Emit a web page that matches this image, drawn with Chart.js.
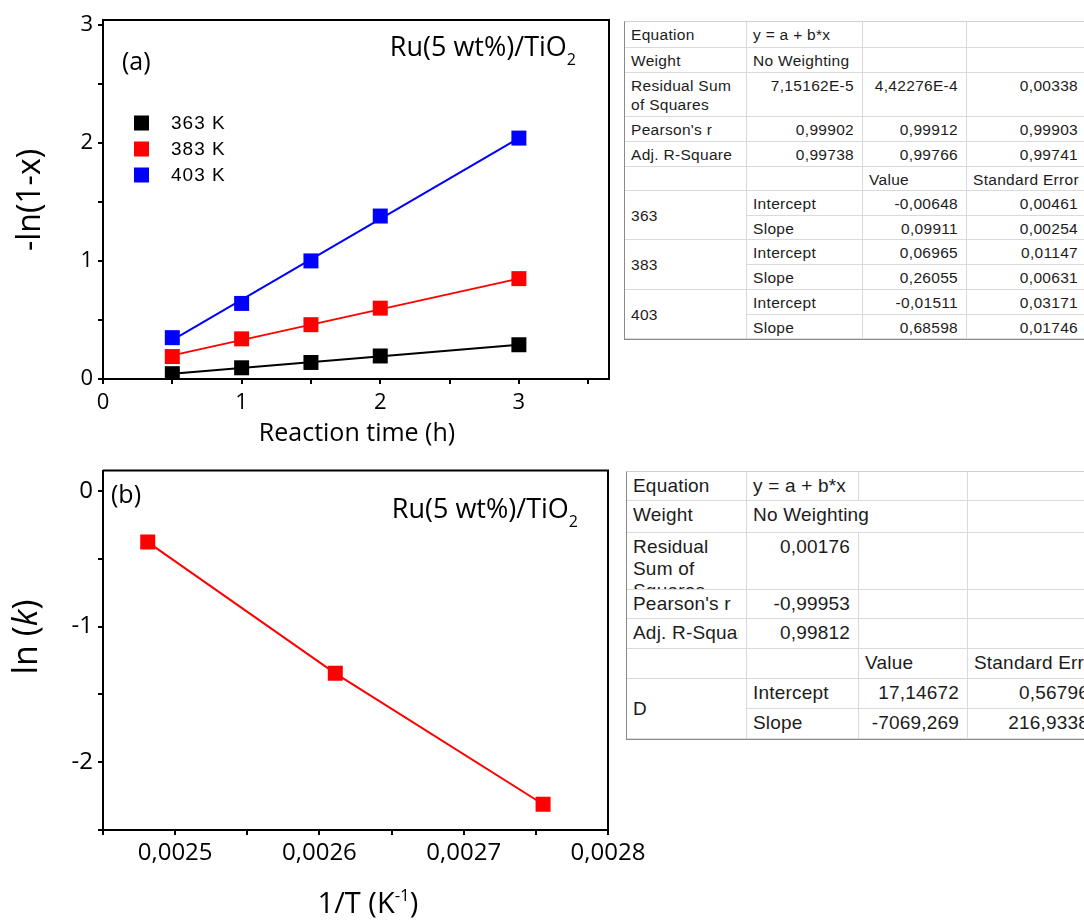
<!DOCTYPE html>
<html>
<head>
<meta charset="utf-8">
<script src="https://cdn.jsdelivr.net/npm/chart.js@4.4.0/dist/chart.umd.min.js"></script>
<style>
html, body { margin: 0; padding: 0; background: #fff; }
body { width: 1084px; height: 922px; position: relative; overflow: hidden; }
canvas { position: absolute; }
#chartA { left: 0; top: 0; }
#chartB { left: 0; top: 460px; }
table.fit { position: absolute; border-collapse: separate; border-spacing: 0; table-layout: fixed;
  font-family: "Liberation Sans", Arial, sans-serif; color: #1c1c1c; background: #fff;
  border-left: 1px solid #8a8a8a; border-top: 1px solid #d0d0d0; border-bottom: 1px solid #8a8a8a; }
table.fit td { border-right: 1px solid #dadada; border-bottom: 1px solid #dadada; vertical-align: top;
  white-space: nowrap; overflow: hidden; padding: 3px 8px 0 6px; }
table.fit td.n { text-align: right; }
table.fit td.m { vertical-align: middle; padding-top: 0; }
table.fit td .cut { overflow: hidden; }
#tabA { left: 624px; top: 21px; width: 462px; font-size: 15.5px; letter-spacing: 0.3px; line-height: 19px; }
#tabB { left: 626px; top: 471px; width: 471px; font-size: 19px; letter-spacing: 0.2px; line-height: 22px; }
.clip3 { height: 53px; overflow: hidden; }
</style>
</head>
<body>
<canvas id="chartA" width="620" height="450"></canvas>
<canvas id="chartB" width="660" height="462"></canvas>

<table class="fit" id="tabA">
  <colgroup><col style="width:122px"><col style="width:116px"><col style="width:104px"><col style="width:120px"></colgroup>
  <tr style="height:26px"><td>Equation</td><td>y = a + b*x</td><td></td><td></td></tr>
  <tr style="height:25px"><td>Weight</td><td>No Weighting</td><td></td><td></td></tr>
  <tr style="height:44px"><td>Residual Sum<br>of Squares</td><td class="n">7,15162E-5</td><td class="n">4,42276E-4</td><td class="n">0,00338</td></tr>
  <tr style="height:25px"><td>Pearson's r</td><td class="n">0,99902</td><td class="n">0,99912</td><td class="n">0,99903</td></tr>
  <tr style="height:25px"><td>Adj. R-Square</td><td class="n">0,99738</td><td class="n">0,99766</td><td class="n">0,99741</td></tr>
  <tr style="height:24px"><td></td><td></td><td>Value</td><td>Standard Error</td></tr>
  <tr style="height:25px"><td rowspan="2" class="m">363</td><td>Intercept</td><td class="n">-0,00648</td><td class="n">0,00461</td></tr>
  <tr style="height:24px"><td>Slope</td><td class="n">0,09911</td><td class="n">0,00254</td></tr>
  <tr style="height:25px"><td rowspan="2" class="m">383</td><td>Intercept</td><td class="n">0,06965</td><td class="n">0,01147</td></tr>
  <tr style="height:25px"><td>Slope</td><td class="n">0,26055</td><td class="n">0,00631</td></tr>
  <tr style="height:25px"><td rowspan="2" class="m">403</td><td>Intercept</td><td class="n">-0,01511</td><td class="n">0,03171</td></tr>
  <tr style="height:24px"><td>Slope</td><td class="n">0,68598</td><td class="n">0,01746</td></tr>
</table>

<table class="fit" id="tabB">
  <colgroup><col style="width:120px"><col style="width:112px"><col style="width:109px"><col style="width:130px"></colgroup>
  <tr style="height:29px"><td>Equation</td><td>y = a + b*x</td><td></td><td></td></tr>
  <tr style="height:32px"><td>Weight</td><td colspan="2">No Weighting</td><td></td></tr>
  <tr style="height:56px"><td><div class="clip3">Residual<br>Sum of<br>Squares</div></td><td class="n">0,00176</td><td></td><td></td></tr>
  <tr style="height:29px"><td>Pearson's r</td><td class="n">-0,99953</td><td></td><td></td></tr>
  <tr style="height:30px"><td><div class="cut" style="width:106px">Adj. R-Square</div></td><td class="n">0,99812</td><td></td><td></td></tr>
  <tr style="height:30px"><td></td><td></td><td>Value</td><td>Standard Error</td></tr>
  <tr style="height:30px"><td rowspan="2" class="m">D</td><td>Intercept</td><td class="n">17,14672</td><td class="n">0,56796</td></tr>
  <tr style="height:30px"><td>Slope</td><td class="n">-7069,269</td><td class="n">216,9338</td></tr>
</table>

<script>
// (a) first-order plot: -ln(1-x) vs reaction time
const timeH = [0.5, 1, 1.5, 2, 3];
const y363 = [0.045, 0.095, 0.14, 0.195, 0.29];
const y383 = [0.19, 0.34, 0.46, 0.60, 0.85];
const y403 = [0.35, 0.64, 1.00, 1.38, 2.04];
const seriesNames = ['363 K', '383 K', '403 K'];
const seriesColors = ['#000000', '#ff0000', '#0000ff'];
// fitted lines, end points
const fitX = [0.5, 3];
const fit363 = [0.045, 0.29];
const fit383 = [0.20, 0.85];
const fit403 = [0.33, 2.04];
const xTicksA = [0, 1, 2, 3];
const yTicksA = [0, 1, 2, 3];

// (b) Arrhenius plot: ln(k) vs 1/T
const invT = [0.002481, 0.002611, 0.002755];
const lnK = [-0.377, -1.345, -2.31];
const xTicksB = [0.0025, 0.0026, 0.0027, 0.0028];
const yTicksB = [0, -1, -2];

const TICK_FONT = 'Open Sans';

function tickList(lo, hi, step) {
    const out = [];
    const n = Math.round((hi - lo) / step);
    for (let i = 0; i <= n; i++) out.push({ value: +(lo + i * step).toFixed(8) });
    return out;
}

function labelIf(v, list, fmt) {
    const hit = list.find(t => Math.abs(t - v) < 1e-9);
    return hit === undefined ? '' : fmt(hit);
}

function pts(xs, ys) {
    return xs.map((x, i) => ({ x: x, y: ys[i] }));
}

// text with sub/superscript pieces
function drawRich(ctx, parts, x, y, align) {
    let total = 0;
    parts.forEach(p => { ctx.font = p.font; total += ctx.measureText(p.t).width; });
    let cx = align === 'right' ? x - total : align === 'center' ? x - total / 2 : x;
    parts.forEach(p => {
        ctx.font = p.font;
        ctx.fillText(p.t, cx, y + (p.dy || 0));
        cx += ctx.measureText(p.t).width;
    });
}

const framePlugin = {
    id: 'frame',
    afterDraw(chart, args, opts) {
        const ctx = chart.ctx;
        const a = chart.chartArea;
        ctx.save();
        ctx.strokeStyle = '#000';
        ctx.lineWidth = 2;
        ctx.beginPath();
        ctx.moveTo(a.left, a.top);
        ctx.lineTo(a.right, a.top);
        ctx.lineTo(a.right, a.bottom);
        ctx.stroke();
        ctx.fillStyle = '#000';
        ctx.textAlign = 'left';
        ctx.textBaseline = 'alphabetic';
        if (opts.draw) opts.draw(ctx, a, chart);
        ctx.restore();
    }
};

function axisOpts(min, max, ticks, list, fmt, size, pad, fitFn) {
    return {
        type: 'linear',
        min: min,
        max: max,
        afterBuildTicks: s => { s.ticks = ticks; },
        afterFit: s => {
            fitFn(s);
            s.paddingLeft = 0; s.paddingRight = 0; s.paddingTop = 0; s.paddingBottom = 0;
        },
        ticks: {
            autoSkip: false,
            maxRotation: 0,
            padding: pad,
            color: '#000',
            font: { family: TICK_FONT, size: size },
            callback: v => labelIf(v, list, fmt)
        },
        grid: { drawOnChartArea: false, drawTicks: true, tickLength: 5, color: '#000', lineWidth: 2 },
        border: { display: true, color: '#000', width: 2 }
    };
}

// Chart (a)
const markerA = (ys, i) => ({
    data: pts(timeH, ys),
    showLine: false,
    pointStyle: 'rect',
    pointRadius: 10.6,
    pointHoverRadius: 10.6,
    pointBorderWidth: 0,
    backgroundColor: seriesColors[i],
    borderColor: seriesColors[i]
});
const fitA = (ys, i) => ({
    data: pts(fitX, ys),
    showLine: true,
    pointRadius: 0,
    borderWidth: 2,
    borderColor: seriesColors[i],
    backgroundColor: seriesColors[i]
});

new Chart(document.getElementById('chartA'), {
    type: 'scatter',
    data: {
        datasets: [
            markerA(y363, 0), markerA(y383, 1), markerA(y403, 2),
            fitA(fit363, 0), fitA(fit383, 1), fitA(fit403, 2)
        ]
    },
    options: {
        responsive: false,
        animation: false,
        devicePixelRatio: 1,
        layout: { padding: { top: 20, right: 11, left: 0, bottom: 0 } },
        plugins: {
            legend: { display: false },
            tooltip: { enabled: false },
            frame: {
                draw: (ctx, a) => {
                    ctx.textBaseline = 'middle';
                    ctx.font = '25px "Open Sans"';
                    ctx.fillText('(a)', 122, 63);
                    // legend
                    ctx.font = '19px "Liberation Sans"';
                    if ('letterSpacing' in ctx) ctx.letterSpacing = '1px';
                    seriesNames.forEach((name, i) => {
                        const cy = 123 + i * 26;
                        ctx.fillStyle = seriesColors[i];
                        ctx.fillRect(134, cy - 7.5, 15, 15);
                        ctx.fillStyle = '#000';
                        ctx.fillText(name, 171, cy + 1);
                    });
                    if ('letterSpacing' in ctx) ctx.letterSpacing = '0px';
                    ctx.textBaseline = 'alphabetic';
                    drawRich(ctx, [
                        { t: 'Ru(5 wt%)/TiO', font: '27px "Open Sans"' },
                        { t: '2', font: '16px "Open Sans"', dy: 9 }
                    ], 576, 56, 'right');
                    drawRich(ctx, [{ t: 'Reaction time (h)', font: '25px "Open Sans"' }], 357, 441, 'center');
                    ctx.save();
                    ctx.translate(31, 200);
                    ctx.rotate(-Math.PI / 2);
                    ctx.textBaseline = 'middle';
                    drawRich(ctx, [{ t: '-ln(1-x)', font: '32px "Open Sans"' }], 0, 0, 'center');
                    ctx.restore();
                }
            }
        },
        scales: {
            x: axisOpts(0, 3.65, tickList(0, 3.5, 0.5), xTicksA, v => String(v), 22, 6, s => { s.height = 71; }),
            y: axisOpts(0, 3.04, tickList(0, 3, 0.5), yTicksA, v => String(v), 22, 5, s => { s.width = 103; })
        }
    },
    plugins: [framePlugin]
});

// Chart (b)
new Chart(document.getElementById('chartB'), {
    type: 'scatter',
    data: {
        datasets: [{
            data: pts(invT, lnK),
            showLine: true,
            borderWidth: 2,
            borderColor: '#ff0000',
            backgroundColor: '#ff0000',
            pointStyle: 'rect',
            pointRadius: 10.6,
            pointHoverRadius: 10.6,
            pointBorderWidth: 0
        }]
    },
    options: {
        responsive: false,
        animation: false,
        devicePixelRatio: 1,
        layout: { padding: { top: 10, right: 52, left: 0, bottom: 0 } },
        plugins: {
            legend: { display: false },
            tooltip: { enabled: false },
            frame: {
                draw: (ctx, a) => {
                    ctx.textBaseline = 'middle';
                    ctx.font = '25px "Open Sans"';
                    ctx.fillText('(b)', 111, 36);
                    ctx.textBaseline = 'alphabetic';
                    drawRich(ctx, [
                        { t: 'Ru(5 wt%)/TiO', font: '27px "Open Sans"' },
                        { t: '2', font: '16px "Open Sans"', dy: 9 }
                    ], 578, 58, 'right');
                    drawRich(ctx, [
                        { t: '1/T (K', font: '29px "Open Sans"' },
                        { t: '-1', font: '17px "Open Sans"', dy: -12 },
                        { t: ')', font: '29px "Open Sans"' }
                    ], 368, 453, 'center');
                    ctx.save();
                    ctx.translate(27, 177);
                    ctx.rotate(-Math.PI / 2);
                    ctx.textBaseline = 'middle';
                    drawRich(ctx, [
                        { t: 'ln (', font: '34px "Open Sans"' },
                        { t: 'k', font: 'italic 34px "Open Sans"' },
                        { t: ')', font: '34px "Open Sans"' }
                    ], 0, 0, 'center');
                    ctx.restore();
                }
            }
        },
        scales: {
            x: axisOpts(0.00245, 0.0028, tickList(0.00245, 0.0028, 0.00005), xTicksB,
                v => v.toFixed(4).replace('.', ','), 24, 4, s => { s.height = 92; }),
            y: axisOpts(-2.5, 0.15, tickList(-2.5, 0, 0.5), yTicksB, v => String(v), 24, 5, s => { s.width = 103; })
        }
    },
    plugins: [framePlugin]
});
</script>
</body>
</html>
